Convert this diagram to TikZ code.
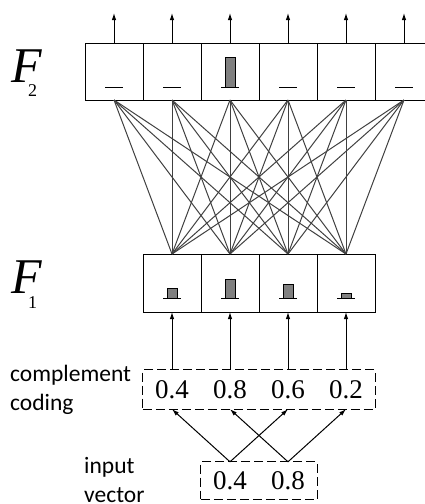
\documentclass[tikz,border=0pt]{standalone}
\usepackage{fontspec}
\setmainfont{Liberation Serif}
\newfontfamily\labelfont{Carlito}
\usetikzlibrary{arrows.meta,positioning,calc,fit}

\begin{document}
\begin{tikzpicture}[x=1pt,y=-1pt,
  cell/.style={draw,line width=1pt,minimum width=58pt,minimum height=58pt,inner sep=0pt,outer sep=0pt},
  val/.style={minimum width=58pt,minimum height=39pt,inner sep=0pt,font=\fontsize{27}{27}\selectfont},
  dbox/.style={draw,line width=1pt,dash pattern=on 9pt off 4pt,inner sep=0pt},
  link/.style={black!75,line width=1pt},
  up/.style={-{Latex[length=7pt,width=4.5pt]},line width=1pt},
  bar/.style={draw,fill=black!50,line width=1pt},
  lbl/.style={font=\labelfont\fontsize{23.5}{29}\selectfont,align=left,anchor=base west,inner sep=0pt},
  bigF/.style={font=\fontsize{50}{50}\selectfont\itshape,anchor=base west,inner sep=0pt},
  sub/.style={font=\fontsize{18}{18}\selectfont,anchor=base west,inner sep=0pt}]
\useasboundingbox (0,0) rectangle (425,504);
\clip (0,0) rectangle (425,504);
% F2 layer
\foreach \i in {1,...,6}{
  \node[cell,minimum height=57pt] (t\i) at ({56+58*\i},71.5) {};
  \coordinate (o\i) at ($(t\i.north)+(0,-30)$);
  \draw[up] (t\i.north) -- (o\i);
  \draw[line width=1pt] ($(t\i)+(-9,15.5)$) -- ++(18,0);}
\draw[bar] ($(t3)+(-5,15.5)$) rectangle ++(10,-30);
\node[bigF] (f2) at (11,82) {F};
\node[sub] (s2) at (28,96) {2};
% F1 layer
\foreach \i/\h in {1/10,2/19,3/14,4/5}{
  \node[cell] (b\i) at ({114+58*\i},283) {};
  \draw[line width=1pt] ($(b\i)+(-9,15)$) -- ++(18,0);
  \draw[bar] ($(b\i)+(-5,15)$) rectangle ++(10,-\h);}
\node[bigF] (f1) at (11,293) {F};
\node[sub] (s1) at (28,308) {1};
% full connections F1 -> F2
\foreach \i in {1,...,4}{\foreach \j in {1,...,6}{
  \draw[link] (b\i.north) -- (t\j.south);}}
% complement coding
\foreach \i/\v in {1/0.4,2/0.8,3/0.6,4/0.2}{
  \node[val] (c\i) at ({114+58*\i},389.5) {\v};
  \draw[up] (c\i.north) -- (b\i.south);}
\node[dbox,fit=(c1)(c4)] (cbox) {};
\node[lbl] (clbl) at (10,410) {complement\\coding};
% input vector
\node[val,minimum height=37pt] (v1) at (230,480.5) {0.4};
\node[val,minimum height=37pt] (v2) at (288,480.5) {0.8};
\node[dbox,fit=(v1)(v2)] (vbox) {};
\node[lbl] (vlbl) at (84,502) {input\\vector};
\draw[up] (v1.north) -- (c1.south);
\draw[up] (v1.north) -- (c3.south);
\draw[up] (v2.north) -- (c2.south);
\draw[up] (v2.north) -- (c4.south);
\end{tikzpicture}
\end{document}
